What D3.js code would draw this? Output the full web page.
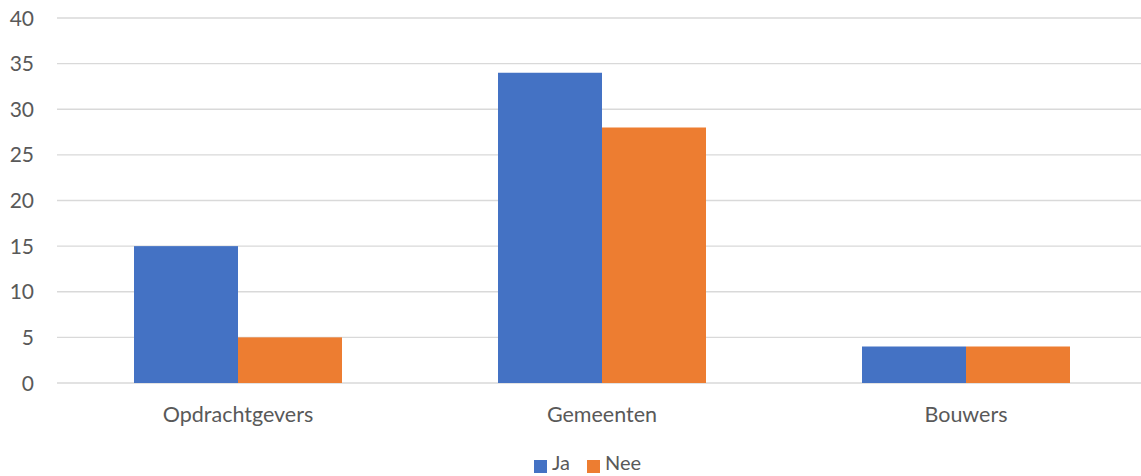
<!DOCTYPE html>
<html><head><meta charset="utf-8">
<script src="https://cdn.jsdelivr.net/npm/d3@7"></script>
<style>body{margin:0;background:#fff}text{font-family:Lato,"Open Sans",sans-serif;fill:#595959}</style>
</head><body><svg id="c" width="1141" height="476"></svg>
<script>
const categories = ["Opdrachtgevers","Gemeenten","Bouwers"];
const seriesNames = ["Ja","Nee"];
const ja = [15,34,4];
const nee = [5,28,4];
const yTicks = [0,5,10,15,20,25,30,35,40];
const colors = ["#4472C4","#ED7D31"];

const svg = d3.select("#c");
const W = 1141;
const x = d3.scaleBand().domain(categories).range([56, 56 + 3*364]);
const y = d3.scaleLinear().domain([0,40]).range([383,18]);
const bw = x.bandwidth()/3.5;

svg.append("g").selectAll("line").data(yTicks).join("line")
  .attr("x1", 57).attr("x2", W).attr("y1", d=>y(d)).attr("y2", d=>y(d))
  .attr("stroke","#d9d9d9").attr("stroke-width",1.3);

svg.append("g").selectAll("text").data(yTicks).join("text")
  .attr("x", 34).attr("y", d=>y(d)).attr("dy","0.36em").attr("text-anchor","end")
  .style("font-size","21px").text(d=>d);

const data = categories.map((c,i)=>({c, vals:[ja[i], nee[i]]}));
const g = svg.append("g");
data.forEach(d=>{
  d.vals.forEach((v,j)=>{
    const x0 = x(d.c) + x.bandwidth()/2 - bw + j*bw;
    g.append("rect").attr("x", x0).attr("width", bw)
      .attr("y", y(v)).attr("height", y(0)-y(v)).attr("fill", colors[j]);
  });
});

svg.append("g").selectAll("text").data(categories).join("text")
  .attr("x", d=>x(d)+x.bandwidth()/2).attr("y", 414).attr("dy","0.36em")
  .attr("text-anchor","middle").style("font-size","21.5px").text(d=>d);

const leg = svg.append("g");
const legX = [534, 587];
seriesNames.forEach((s,i)=>{
  leg.append("rect").attr("x", legX[i]).attr("y", 460).attr("width",13).attr("height",13).attr("fill",colors[i]);
  leg.append("text").attr("x", legX[i]+18).attr("y", 470).style("font-size","20px").text(s);
});
</script></body></html>
